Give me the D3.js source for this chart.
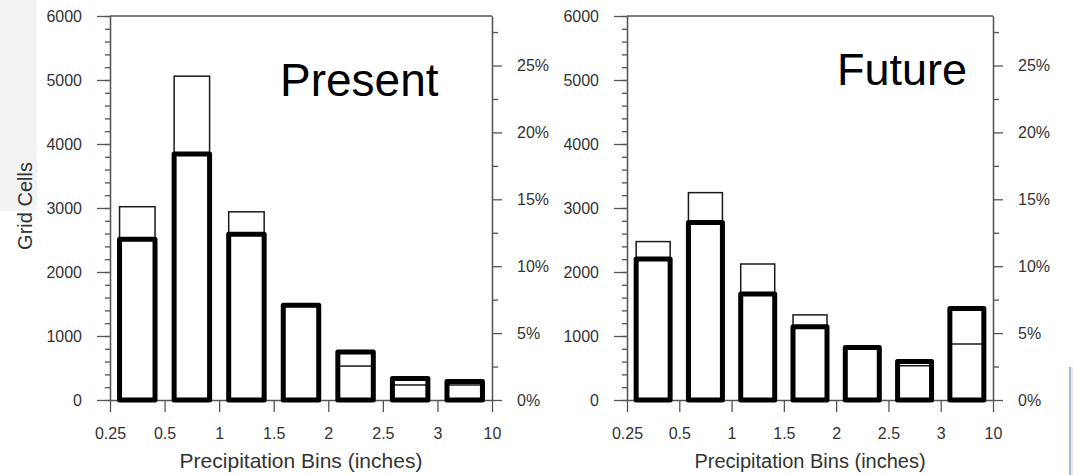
<!DOCTYPE html>
<html lang="en">
<head>
  <meta charset="UTF-8">
  <title>Precipitation Bins</title>
  <script src="https://d3js.org/d3.v7.min.js"></script>
  <style>
    body { margin: 0; background: #fff; }
    text { font-family: "Liberation Sans", Arial, Helvetica, sans-serif; }
  </style>
</head>
<body>
  <div id="chart"></div>
  <script>
    // bin edge labels and bar values (grid cells)
    const binEdges = ['0.25', '0.5', '1', '1.5', '2', '2.5', '3', '10'];
    const presentThin = [3020, 5060, 2940, 1470, 530, 235, 235];
    const presentThick = [2510, 3845, 2590, 1480, 750, 335, 290];
    const futureThin = [2475, 3240, 2125, 1330, 810, 535, 875];
    const futureThick = [2205, 2775, 1655, 1145, 820, 600, 1430];
    const countTicks = [0, 1000, 2000, 3000, 4000, 5000, 6000];
    const pctTicks = [0, 5, 10, 15, 20, 25];
    const countMax = 6000;
    const pctMax = 28.7;

    const W = 1073, H = 475;
    const plotTop = 16, plotBottom = 400;

    const svg = d3.select('#chart')
      .append('svg')
      .attr('width', W)
      .attr('height', H);

    svg.append('rect').attr('width', W).attr('height', H).attr('fill', '#fff');

    // leftover slide decorations
    svg.append('rect').attr('x', 0).attr('y', 0).attr('width', 37).attr('height', 211).attr('fill', '#f3f3f3');
    svg.append('rect').attr('x', 1070).attr('y', 367).attr('width', 3).attr('height', H - 367).attr('fill', '#e2eaf1');
    svg.append('line').attr('x1', 1070).attr('x2', 1070).attr('y1', 367).attr('y2', H)
      .attr('stroke', '#a8bfd2').attr('stroke-width', 2);

    const panels = [
      { x0: 110, x1: 492, thin: presentThin, thick: presentThick, label: 'Present',
        lx: 280, ly: 96, lsize: 46, tsize: 21, ytitle: true },
      { x0: 627, x1: 993, thin: futureThin, thick: futureThick, label: 'Future',
        lx: 837, ly: 85, lsize: 45, tsize: 20, ytitle: false }
    ];

    const y = d3.scaleLinear().domain([0, countMax]).range([plotBottom, plotTop]);
    const yPct = d3.scaleLinear().domain([0, pctMax]).range([plotBottom, plotTop]);

    function styleAxis(g) {
      g.selectAll('path, line').attr('stroke', '#555').attr('stroke-width', 1.3);
      g.selectAll('text').attr('fill', '#333').style('font-size', '16px');
    }

    panels.forEach(p => {
      const g = svg.append('g');
      const idx = d3.range(p.thin.length);

      const xBand = d3.scaleBand().domain(idx).range([p.x0, p.x1])
        .paddingInner(0.35).paddingOuter(0.175);
      const xEdge = d3.scaleLinear().domain([0, binEdges.length - 1]).range([p.x0, p.x1]);

      // top frame line
      g.append('line').attr('x1', p.x0).attr('x2', p.x1).attr('y1', plotTop).attr('y2', plotTop)
        .attr('stroke', '#555').attr('stroke-width', 1.3);

      // left axis: minor then major
      g.append('g').attr('transform', `translate(${p.x0},0)`)
        .call(d3.axisLeft(y).tickValues(d3.range(0, countMax + 1, 200)).tickSize(5).tickSizeOuter(0).tickFormat(''))
        .call(styleAxis);
      g.append('g').attr('transform', `translate(${p.x0},0)`)
        .call(d3.axisLeft(y).tickValues(countTicks).tickSize(13).tickSizeOuter(0).tickPadding(15).tickFormat(d3.format('d')))
        .call(styleAxis);

      // right axis in percent
      g.append('g').attr('transform', `translate(${p.x1},0)`)
        .call(d3.axisRight(yPct).tickValues(d3.range(2.5, pctMax, 5)).tickSize(6).tickSizeOuter(0).tickFormat(''))
        .call(styleAxis);
      g.append('g').attr('transform', `translate(${p.x1},0)`)
        .call(d3.axisRight(yPct).tickValues(pctTicks).tickSize(10).tickSizeOuter(0).tickPadding(15).tickFormat(d => d + '%'))
        .call(styleAxis);

      // bottom axis at bin edges
      g.append('g').attr('transform', `translate(0,${plotBottom})`)
        .call(d3.axisBottom(xEdge).tickValues(d3.range(binEdges.length)).tickSize(12).tickSizeOuter(0).tickPadding(16)
          .tickFormat(i => binEdges[i]))
        .call(styleAxis);

      // thin bars
      g.append('g').selectAll('rect').data(p.thin).enter().append('rect')
        .attr('x', (d, i) => xBand(i))
        .attr('y', d => y(d))
        .attr('width', xBand.bandwidth())
        .attr('height', d => y(0) - y(d))
        .attr('fill', 'none')
        .attr('stroke', '#1a1a1a')
        .attr('stroke-width', 1.5);

      // thick bars
      g.append('g').selectAll('rect').data(p.thick).enter().append('rect')
        .attr('x', (d, i) => xBand(i))
        .attr('y', d => y(d))
        .attr('width', xBand.bandwidth())
        .attr('height', d => y(0) - y(d))
        .attr('fill', 'none')
        .attr('stroke', '#000')
        .attr('stroke-width', 5)
        .attr('stroke-linejoin', 'round');

      // x title
      g.append('text')
        .attr('x', (p.x0 + p.x1) / 2)
        .attr('y', 468)
        .attr('text-anchor', 'middle')
        .attr('fill', '#333')
        .style('font-size', p.tsize + 'px')
        .text('Precipitation Bins (inches)');

      // panel label
      g.append('text')
        .attr('x', p.lx)
        .attr('y', p.ly)
        .attr('fill', '#000')
        .style('font-size', p.lsize + 'px')
        .text(p.label);

      if (p.ytitle) {
        g.append('text')
          .attr('transform', 'translate(32,206) rotate(-90)')
          .attr('text-anchor', 'middle')
          .attr('fill', '#333')
          .style('font-size', '20px')
          .text('Grid Cells');
      }
    });
  </script>
</body>
</html>
